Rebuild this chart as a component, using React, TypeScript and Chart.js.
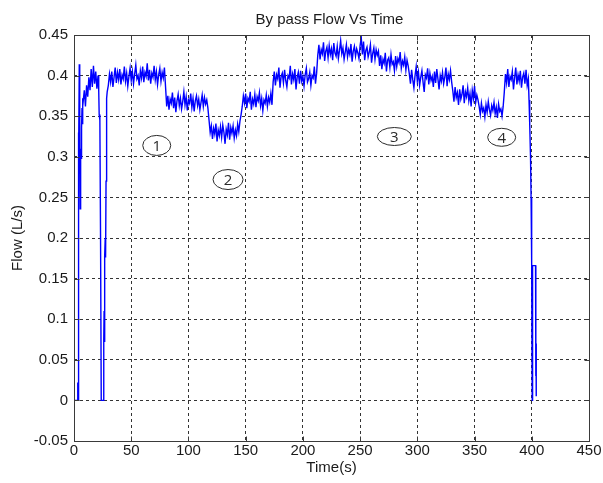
import { useEffect, useRef } from 'react';
import { Chart, registerables } from 'chart.js';

Chart.register(...registerables);

// ---- axes ----
const xTickValues = [0, 50, 100, 150, 200, 250, 300, 350, 400, 450];
const xTickLabels = ['0', '50', '100', '150', '200', '250', '300', '350', '400', '450'];
const yTickValues = [-0.05, 0, 0.05, 0.1, 0.15, 0.2, 0.25, 0.3, 0.35, 0.4, 0.45];
const yTickLabels = ['-0.05', '0', '0.05', '0.1', '0.15', '0.2', '0.25', '0.3', '0.35', '0.4', '0.45'];

// ---- data (time in s, flow in L/s) ----
// start-up transient
const startupTimes = [0, 3.0, 3.3, 3.5, 3.7, 4.0, 4.3, 4.6, 5.0, 5.4, 5.8, 6.2, 6.6, 7.0, 7.4, 7.8];
const startupFlows = [0, 0, 0.022, 0, 0.005, 0.33, 0.296, 0.414, 0.35, 0.236, 0.31, 0.298, 0.335, 0.36, 0.34, 0.372];

// first rise, sampled every second from t = 8 s (flow in 0.001 L/s)
const rampStartTime = 8;
const rampFlowMilli = [368, 382, 362, 388, 374, 398, 382, 408, 386, 412, 390, 405, 384, 400];

// pump dropout around t = 22..29 s
const dropTimes = [21.6, 22.0, 22.6, 23.2, 23.8, 25.6, 26.0, 26.3, 26.6, 27.0, 27.3, 27.6, 28.0, 28.3, 28.7, 29.0];
const dropFlows = [0.382, 0.352, 0.345, 0.2, 0, 0, 0.075, 0.11, 0.072, 0.178, 0.2, 0.176, 0.27, 0.345, 0.372, 0.38];

// steady steps, sampled every second from t = 30 s (flow in 0.001 L/s)
const stepsStartTime = 30;
const stepFlow040a = [388, 402, 392, 405, 386, 398, 410, 391, 404, 395, 408, 389, 401, 396, 411, 393, 403, 387, 399, 409, 394, 405, 390, 402, 413, 396, 400, 388, 406, 397, 411, 392, 404, 399, 415, 394, 407, 390, 403, 398, 412, 395, 405, 389, 401, 409, 393, 404, 397, 410, 386];
const stepFlow037a = [362, 375, 358, 371, 366, 379, 360, 373, 355, 369, 377, 363, 372, 359, 368, 380, 364, 374, 357, 370, 366, 378, 361, 372, 356, 369, 375, 363, 371, 358, 367, 376, 362, 373, 365, 370, 360];
const stepFlow033 = [345, 330, 338, 322, 335, 328, 341, 319, 333, 326, 337, 324, 339, 330, 316, 334, 327, 342, 321, 336, 329, 338, 323, 333, 326, 340, 331, 344, 352];
const stepFlow037b = [362, 375, 366, 378, 360, 372, 368, 380, 358, 371, 365, 377, 361, 374, 369, 379, 363, 372, 357, 370, 366, 376, 362, 373, 367, 378, 364];
const stepFlow040b = [392, 405, 388, 401, 396, 410, 385, 399, 403, 391, 407, 394, 386, 400, 397, 412, 389, 402, 395, 408, 383, 398, 404, 390, 406, 393, 399, 387, 401, 409, 392, 396, 404, 388, 400, 397, 411, 390, 403];
const stepFlow043 = [425, 438, 420, 432, 427, 441, 418, 430, 435, 422, 437, 426, 433, 419, 440, 428, 424, 436, 421, 431, 443, 427, 434, 420, 429, 438, 423, 432, 426, 439, 417, 430, 436, 424, 433, 428, 421, 437, 447, 426, 442, 419, 431, 435, 423, 429, 438, 416, 427, 434, 420, 432, 425, 430];
const stepFlow042 = [412, 425, 408, 420, 415, 428, 405, 419, 422, 410, 426, 414, 417, 406, 424, 411, 421, 416, 429, 409, 418, 413, 423, 407, 419, 412];
const stepFlow040c = [402, 390, 407, 395, 385, 400, 411, 393, 404, 388, 398, 406, 392, 380, 401, 397, 409, 389, 403, 394, 399, 386, 405, 391, 408, 396, 383, 400, 393, 404, 390, 398, 410, 387, 402, 395, 406, 392];
const stepFlow0375 = [381, 368, 386, 373, 379, 364, 383, 371, 377, 388, 366, 380, 374, 385, 369, 378, 362, 382, 372, 387, 367, 376, 370];
const stepFlow036 = [362, 352, 366, 356, 360, 349, 364, 355, 368, 358, 351, 363, 357, 367, 353, 361, 348, 365, 356, 359, 350, 362];
const stepFlow0395 = [380, 402, 391, 408, 386, 399, 395, 405, 383, 397, 410, 389, 401, 393, 406, 385, 398, 403, 390, 407, 388, 396];

// shut-down transient
const shutdownTimes = [397.6, 398.0, 398.4, 398.9, 399.4, 399.9, 400.4, 400.7, 403.3, 403.5, 403.6, 403.7, 403.8, 404.0];
const shutdownFlows = [0.37, 0.345, 0.34, 0.3, 0.25, 0.17, 0.0, 0.166, 0.166, 0.07, 0.03, 0.07, 0.026, 0.005];

// circled annotations
const noteLabels = ['1', '2', '3', '4'];
const noteTimes = [72.3, 134.6, 279.9, 373.7];
const noteFlows = [0.314, 0.272, 0.325, 0.324];

function buildPoints() {
  const pts: { x: number; y: number }[] = [];
  startupTimes.forEach((t, i) => pts.push({ x: t, y: startupFlows[i] }));
  rampFlowMilli.forEach((v, i) => pts.push({ x: rampStartTime + i, y: v / 1000 }));
  dropTimes.forEach((t, i) => pts.push({ x: t, y: dropFlows[i] }));
  const steps = [stepFlow040a, stepFlow037a, stepFlow033, stepFlow037b, stepFlow040b, stepFlow043, stepFlow042, stepFlow040c, stepFlow0375, stepFlow036, stepFlow0395];
  let t = stepsStartTime;
  steps.forEach((arr) => arr.forEach((v) => { pts.push({ x: t, y: v / 1000 }); t += 1; }));
  shutdownTimes.forEach((tt, i) => pts.push({ x: tt, y: shutdownFlows[i] }));
  return pts;
}

const FONT = '"Liberation Sans", Arial, sans-serif';
const TEXT = '#1a1a1a';

const overlayPlugin = {
  id: 'overlay',
  afterDatasetsDraw(chart: any) {
    const { ctx, chartArea: a, scales } = chart;
    const xs = scales.x;
    const ys = scales.y;
    ctx.save();
    ctx.setLineDash([]);
    ctx.strokeStyle = '#3a3a3a';
    ctx.lineWidth = 1;
    ctx.strokeRect(a.left + 0.5, a.top + 0.5, a.right - a.left, a.bottom - a.top);
    // inner tick marks
    ctx.beginPath();
    xTickValues.forEach((v) => {
      const px = Math.round(xs.getPixelForValue(v)) + 0.5;
      ctx.moveTo(px, a.bottom + 0.5); ctx.lineTo(px, a.bottom - 4.5);
      ctx.moveTo(px, a.top + 0.5); ctx.lineTo(px, a.top + 5.5);
    });
    yTickValues.forEach((v) => {
      const py = Math.round(ys.getPixelForValue(v)) + 0.5;
      ctx.moveTo(a.left + 0.5, py); ctx.lineTo(a.left + 5.5, py);
      ctx.moveTo(a.right + 0.5, py); ctx.lineTo(a.right - 4.5, py);
    });
    ctx.stroke();
    // annotations
    ctx.strokeStyle = '#2a2a2a';
    ctx.fillStyle = '#2a2a2a';
    ctx.font = '15px "Open Sans", sans-serif';
    ctx.textAlign = 'center';
    ctx.textBaseline = 'middle';
    const radii = [[14, 10], [15, 10], [17, 9], [14, 9]];
    noteLabels.forEach((lab, i) => {
      const cx = xs.getPixelForValue(noteTimes[i]);
      const cy = ys.getPixelForValue(noteFlows[i]);
      ctx.beginPath();
      ctx.ellipse(cx, cy, radii[i][0], radii[i][1], 0, 0, Math.PI * 2);
      ctx.stroke();
      ctx.fillText(lab, cx, cy + 1);
    });
    // title
    ctx.fillStyle = TEXT;
    ctx.font = '15px ' + FONT;
    ctx.textBaseline = 'alphabetic';
    ctx.fillText('By pass Flow Vs Time', (a.left + a.right) / 2 - 2, 24);
    ctx.restore();
  },
};

export default function App() {
  const ref = useRef<HTMLCanvasElement>(null);
  useEffect(() => {
    document.body.style.margin = '0';
    const canvas = ref.current;
    if (!canvas) return;
    const chart = new Chart(canvas, {
      type: 'scatter',
      data: {
        datasets: [
          {
            data: buildPoints(),
            showLine: true,
            borderColor: 'rgb(0,0,255)',
            borderWidth: 1.4,
            pointRadius: 0,
            pointHoverRadius: 0,
            tension: 0,
          },
        ],
      },
      options: {
        responsive: false,
        animation: false,
        events: [],
        layout: { padding: { left: 0, top: 35, right: 14, bottom: 0 } },
        plugins: { legend: { display: false }, title: { display: false }, tooltip: { enabled: false } },
        scales: {
          x: {
            type: 'linear',
            min: 0,
            max: 450,
            afterFit: (s: any) => { s.height = 42; },
            afterBuildTicks: (s: any) => { s.ticks = xTickValues.map((v) => ({ value: v })); },
            ticks: {
              callback: (_v: any, i: number) => xTickLabels[i],
              font: { family: FONT, size: 15 },
              color: TEXT,
              padding: 1,
              maxRotation: 0,
              autoSkip: false,
            },
            grid: { color: '#333', lineWidth: 1, drawTicks: false },
            border: { display: false, dash: [3, 3] },
            title: { display: true, text: 'Time(s)', font: { family: FONT, size: 15 }, color: TEXT, padding: { top: 0, bottom: 6 } },
          },
          y: {
            type: 'linear',
            min: -0.05,
            max: 0.45,
            afterFit: (s: any) => { s.width = 74; },
            afterBuildTicks: (s: any) => { s.ticks = yTickValues.map((v) => ({ value: v })); },
            ticks: {
              callback: (_v: any, i: number) => yTickLabels[i],
              font: { family: FONT, size: 15 },
              color: TEXT,
              padding: 6,
              autoSkip: false,
            },
            grid: { color: '#333', lineWidth: 1, drawTicks: false },
            border: { display: false, dash: [3, 3] },
            title: { display: true, text: 'Flow (L/s)', font: { family: FONT, size: 15 }, color: TEXT, padding: { top: 9, bottom: 0 } },
          },
        },
      },
      plugins: [overlayPlugin],
    } as any);
    return () => chart.destroy();
  }, []);
  return (
    <div style={{ width: 603, height: 483, background: '#fff' }}>
      <canvas ref={ref} width={603} height={483} style={{ display: 'block' }} />
    </div>
  );
}
